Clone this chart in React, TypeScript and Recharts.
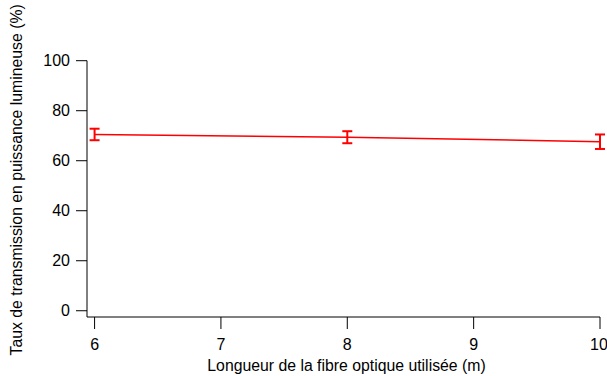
import { CartesianGrid, ErrorBar, Line, LineChart, XAxis, YAxis } from "recharts"

const lengths = [6, 8, 10]
const transmission = [70.5, 69.4, 67.6]
const errors = [2.3, 2.4, 2.9]
const xTicks = [6, 7, 8, 9, 10]
const yTicks = [0, 20, 40, 60, 80, 100]

const data = lengths.map((l, i) => ({ length: l, taux: transmission[i], err: errors[i] }))

const font = "'Liberation Sans', Arial, sans-serif"

const YLabel = ({ viewBox }: any) => {
    const cy = viewBox.y + viewBox.height / 2 - 9
    return (
        <text
            transform={`translate(22,${cy}) rotate(-90)`}
            textAnchor="middle"
            fontSize={15.8}
            fontFamily={font}
            fill="#000"
        >
            Taux de transmission en puissance lumineuse (%)
        </text>
    )
}

export default function App() {
    return (
        <div style={{ position: "absolute", left: 0, top: 0, width: 607, height: 376, background: "#fff" }}>
            <LineChart
                width={607}
                height={376}
                data={data}
                margin={{ top: 60.7, right: 7, left: 0, bottom: 0 }}
            >
                <CartesianGrid stroke="none" />
                <XAxis
                    dataKey="length"
                    type="number"
                    domain={[5.94, 10]}
                    ticks={xTicks}
                    allowDataOverflow
                    height={59}
                    stroke="#000"
                    tickSize={12}
                    tickMargin={10}
                    tick={{ fill: "#000", fontSize: 16, fontFamily: font }}
                    label={{
                        value: "Longueur de la fibre optique utilisée (m)",
                        position: "insideBottom",
                        offset: 5,
                        dx: 3,
                        fill: "#000",
                        fontSize: 15.8,
                        fontFamily: font,
                    }}
                />
                <YAxis
                    type="number"
                    domain={[-2.5, 100]}
                    ticks={yTicks}
                    allowDataOverflow
                    width={87}
                    stroke="#000"
                    tickSize={11}
                    tickMargin={6}
                    tick={{ fill: "#000", fontSize: 16, fontFamily: font }}
                    label={<YLabel />}
                />
                <Line
                    type="linear"
                    dataKey="taux"
                    stroke="#ff0000"
                    strokeWidth={1.5}
                    dot={false}
                    isAnimationActive={false}
                >
                    <ErrorBar dataKey="err" width={5} stroke="#ff0000" strokeWidth={2} direction="y" />
                </Line>
            </LineChart>
        </div>
    )
}
